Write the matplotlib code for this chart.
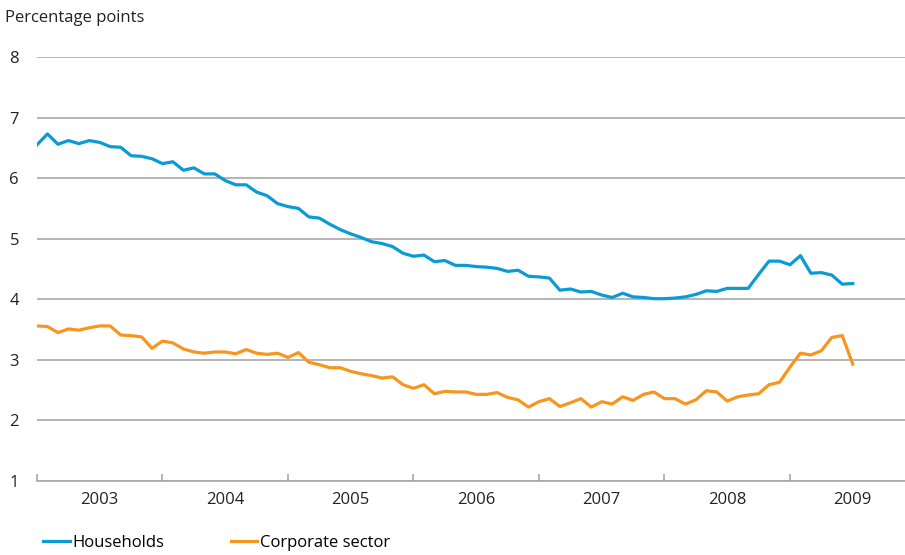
import matplotlib.pyplot as plt
import numpy as np

plt.rcParams['font.family'] = ['Open Sans', 'DejaVu Sans']

# monthly values, Jan 2003 - Jul 2009
households = [
    6.55, 6.73, 6.56, 6.62, 6.57, 6.62, 6.59, 6.52, 6.51, 6.37, 6.36, 6.32,
    6.24, 6.27, 6.13, 6.17, 6.07, 6.07, 5.96, 5.89, 5.89, 5.77, 5.71, 5.58,
    5.53, 5.50, 5.36, 5.34, 5.24, 5.15, 5.08, 5.02, 4.95, 4.92, 4.87, 4.76,
    4.71, 4.73, 4.62, 4.64, 4.56, 4.56, 4.54, 4.53, 4.51, 4.46, 4.48, 4.38,
    4.37, 4.35, 4.15, 4.17, 4.12, 4.13, 4.07, 4.03, 4.10, 4.04, 4.03, 4.01,
    4.01, 4.02, 4.04, 4.08, 4.14, 4.13, 4.18, 4.18, 4.18, 4.41, 4.63, 4.63,
    4.57, 4.72, 4.43, 4.44, 4.40, 4.25, 4.26,
]
corporate = [
    3.56, 3.55, 3.45, 3.51, 3.49, 3.53, 3.56, 3.56, 3.41, 3.40, 3.38, 3.19,
    3.31, 3.28, 3.18, 3.13, 3.11, 3.13, 3.13, 3.10, 3.17, 3.11, 3.09, 3.11,
    3.04, 3.12, 2.96, 2.92, 2.87, 2.87, 2.81, 2.77, 2.74, 2.70, 2.72, 2.59,
    2.53, 2.59, 2.44, 2.48, 2.47, 2.47, 2.43, 2.43, 2.46, 2.38, 2.34, 2.22,
    2.31, 2.36, 2.23, 2.29, 2.36, 2.22, 2.31, 2.27, 2.39, 2.33, 2.43, 2.47,
    2.36, 2.36, 2.27, 2.34, 2.49, 2.47, 2.32, 2.39, 2.42, 2.44, 2.59, 2.63,
    2.88, 3.11, 3.08, 3.15, 3.37, 3.40, 2.93,
]
years = ['2003', '2004', '2005', '2006', '2007', '2008', '2009']

blue = '#0a9bd7'
orange = '#f7961e'
grey = '#a8a8a8'

months = np.arange(len(households))

fig = plt.figure(figsize=(9.05, 5.55), dpi=100)
ax = fig.add_axes([37 / 905, 1 - 481 / 555, 1 - 37 / 905, (481 - 57) / 555])

ax.plot(months, households, color=blue, lw=2.3, label='Households', zorder=3)
ax.plot(months, corporate, color=orange, lw=2.3, label='Corporate sector', zorder=3)

ax.set_xlim(0, 83)
ax.set_ylim(1, 8)
ax.set_yticks(range(1, 9))
ax.yaxis.grid(True, color=grey, lw=1.2)
ax.set_axisbelow(True)

ax.set_xticks([6 + 12 * i for i in range(len(years))])
ax.set_xticklabels(years)
ax.set_xticks([12 * i for i in range(len(years))], minor=True)
ax.tick_params(axis='x', which='major', length=0, pad=8, labelsize=12, labelcolor='#222222')
ax.tick_params(axis='x', which='minor', length=5, direction='in', color=grey, width=1.2)
ax.tick_params(axis='y', length=0, pad=13, labelsize=12, labelcolor='#222222')

for s in ['top', 'right', 'left']:
    ax.spines[s].set_visible(False)
ax.spines['bottom'].set_color(grey)
ax.spines['bottom'].set_linewidth(1.2)

fig.text(5 / 905, 1 - 18 / 555, 'Percentage points', fontsize=12, color='#222222',
         ha='left', va='center')

fig.legend(loc='center left', bbox_to_anchor=(43 / 905, 1 - 543 / 555), ncol=2,
           frameon=False, fontsize=12, handlelength=1.6, handletextpad=0.15,
           columnspacing=4.0, borderpad=0, borderaxespad=0)

plt.savefig('out.png', dpi=100)
